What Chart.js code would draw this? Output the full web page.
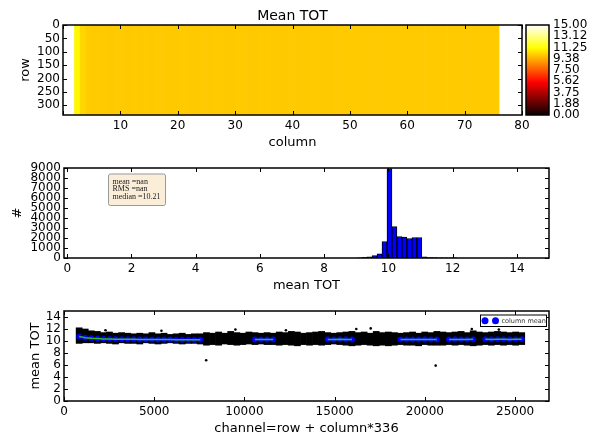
<!DOCTYPE html>
<html>
<head>
<meta charset="utf-8">
<script src="https://cdn.jsdelivr.net/npm/chart.js@4.4.1/dist/chart.umd.min.js"></script>
<style>
  html, body { margin: 0; padding: 0; background: #fff; }
  #wrap { position: relative; width: 598px; height: 441px; overflow: hidden; }
  #wrap canvas { position: absolute; left: 0; top: 0; }
</style>
</head>
<body>
<div id="wrap">
  <canvas id="map" width="598" height="441"></canvas>
  <canvas id="cbar" width="598" height="441"></canvas>
  <canvas id="hist" width="598" height="441"></canvas>
  <canvas id="chan" width="598" height="441"></canvas>
</div>
<script>
// ---------- data ----------
const nRows = 336;
const columns = [2, 3, 4, 5, 6, 7, 8, 9, 10, 11, 12, 13, 14, 15, 16, 17, 18, 19, 20, 21,
  22, 23, 24, 25, 26, 27, 28, 29, 30, 31, 32, 33, 34, 35, 36, 37, 38, 39, 40, 41,
  42, 43, 44, 45, 46, 47, 48, 49, 50, 51, 52, 53, 54, 55, 56, 57, 58, 59, 60, 61,
  62, 63, 64, 65, 66, 67, 68, 69, 70, 71, 72, 73, 74, 75];

// typical TOT per column shown in the map
const mapTot = [11.0, 10.3, 10.05, 10.0, 10.02, 10.0, 9.98, 10.0, 10.01, 9.99,
  10.0, 9.99, 10.01, 9.98, 10.0, 10.01, 9.99, 9.98, 10.0, 10.01,
  9.99, 9.98, 10.0, 9.99, 10.01, 10.0, 9.98, 9.99, 10.01, 10.0,
  9.98, 9.99, 10.01, 10.0, 9.98, 9.99, 9.98, 10.01, 10.0, 9.98,
  9.99, 10.01, 10.0, 9.98, 9.99, 10.02, 10.01, 10.0, 10.01, 10.02,
  10.01, 10.0, 10.01, 10.02, 10.01, 10.0, 10.01, 10.02, 10.01, 10.0,
  10.01, 10.02, 10.01, 10.0, 10.01, 10.02, 10.01, 10.0, 10.01, 10.02,
  10.01, 10.0, 10.01, 10.02];

const cbarTicks = [0, 1.875, 3.75, 5.625, 7.5, 9.375, 11.25, 13.125, 15];
const cbarLabels = ['0.00', '1.88', '3.75', '5.62', '7.50', '9.38', '11.25', '13.12', '15.00'];

// histogram of per-pixel mean TOT
const histCenters = [9.103, 9.258, 9.413, 9.568, 9.723, 9.878, 10.033, 10.188, 10.343, 10.498,
  10.653, 10.808, 10.963, 11.118, 11.273, 11.428, 11.583, 11.738, 11.893, 12.048];
const histCounts = [20, 60, 120, 250, 420, 1650, 8950, 3150, 2150, 2100,
  1950, 2050, 2050, 120, 50, 30, 20, 15, 25, 10];
const statsLines = ['mean =nan', 'RMS =nan', 'median =10.21'];

// channel axis tick positions
const channelTicks = [0, 5000, 10000, 15000, 20000, 25000];

// per-channel spread within each column (lowest / highest pixel value)
const bandLo = [9.6, 9.7, 9.7, 9.6, 9.7, 9.6, 9.5, 9.7, 9.6, 9.6,
  9.5, 9.7, 9.6, 9.5, 9.6, 9.7, 9.6, 9.5, 9.6, 9.6,
  9.5, 9.3, 9.4, 9.3, 9.5, 9.4, 9.3, 9.4, 9.5, 9.4,
  9.5, 9.4, 9.4, 9.3, 9.4, 9.3, 9.2, 9.4, 9.3, 9.4,
  9.3, 9.4, 9.5, 9.4, 9.3, 9.2, 9.3, 9.4, 9.3, 9.2,
  9.3, 9.2, 9.3, 9.4, 9.3, 9.3, 9.2, 9.4, 9.3, 9.3,
  9.3, 9.4, 9.3, 9.4, 9.3, 9.2, 9.3, 9.4, 9.3, 9.4,
  9.3, 9.4, 9.3, 9.4];
const bandHi = [12.2, 12.0, 11.7, 11.6, 11.4, 11.5, 11.3, 11.4, 11.3, 11.2,
  11.3, 11.2, 11.4, 11.2, 11.3, 11.1, 11.2, 11.3, 11.1, 11.2,
  11.2, 11.4, 11.3, 11.5, 11.3, 11.6, 11.4, 11.3, 11.5, 11.4,
  11.3, 11.4, 11.3, 11.5, 11.4, 11.6, 11.5, 11.3, 11.4, 11.5,
  11.6, 11.4, 11.3, 11.4, 11.5, 11.6, 11.4, 11.5, 11.3, 11.6,
  11.4, 11.5, 11.4, 11.3, 11.4, 11.5, 11.3, 11.5, 11.4, 11.6,
  11.5, 11.4, 11.5, 11.6, 11.4, 11.7, 11.5, 11.4, 11.5, 11.6,
  11.5, 11.4, 11.5, 11.4];
// isolated channels outside the band
const strayChannels = [7880, 20600, 9500, 12300, 17000, 22600, 5400, 2300, 16200, 24100];
const strayTot = [6.8, 5.9, 11.9, 11.8, 12.1, 12.0, 11.7, 11.8, 12.0, 11.9];

// column means (gaps where no mean is drawn)
const colMean = [10.75, 10.55, 10.45, 10.4, 10.35, 10.33, 10.31, 10.3, 10.29, 10.28,
  10.27, 10.26, 10.25, 10.24, 10.24, 10.23, 10.22, 10.22, 10.21, 10.2,
  10.2, null, null, null, null, null, null, null, null, 10.25,
  10.24, 10.26, 10.25, null, null, null, null, null, null, null,
  null, 10.27, 10.26, 10.28, 10.27, 10.26, null, null, null, null,
  null, null, null, 10.25, 10.26, 10.24, 10.25, 10.27, 10.26, 10.25,
  null, 10.26, 10.27, 10.25, 10.26, 10.28, null, 10.28, 10.27, 10.29,
  10.28, 10.27, 10.28, 10.3];

// ---------- helpers ----------
Chart.defaults.font.family = "'DejaVu Sans', sans-serif";
Chart.defaults.font.size = 12;
Chart.defaults.color = '#000';

// matplotlib "hot" colour map, value range 0..15
function hot(v) {
  const t = Math.max(0, Math.min(1, v / 15));
  const c = x => Math.max(0, Math.min(1, x));
  const r = c(0.0416 + (1 - 0.0416) * t / 0.365079);
  const g = c((t - 0.365079) / (0.746032 - 0.365079));
  const b = c((t - 0.746032) / (1 - 0.746032));
  return `rgb(${Math.round(r * 255)},${Math.round(g * 255)},${Math.round(b * 255)})`;
}

const plainNum = v => String(v);

// axes frame with inward tick marks on all four sides
const framePlugin = {
  id: 'frame',
  afterDatasetsDraw(chart, args, opts) {
    const { ctx, chartArea: a } = chart;
    ctx.save();
    ctx.strokeStyle = '#000';
    if (opts.ticks) {
      ctx.lineWidth = 1;
      ['x', 'y'].forEach(id => {
        const s = chart.scales[id];
        if (!s || !s.options.display) return;
        s.ticks.forEach(t => {
          const p = Math.round(s.getPixelForValue(t.value)) + 0.5;
          ctx.beginPath();
          if (s.isHorizontal()) {
            ctx.moveTo(p, a.bottom); ctx.lineTo(p, a.bottom - 4);
            ctx.moveTo(p, a.top); ctx.lineTo(p, a.top + 4);
          } else {
            ctx.moveTo(a.left, p); ctx.lineTo(a.left + 4, p);
            ctx.moveTo(a.right, p); ctx.lineTo(a.right - 4, p);
          }
          ctx.stroke();
        });
      });
    }
    ctx.lineWidth = 1.5;
    ctx.strokeRect(a.left, a.top, a.right - a.left, a.bottom - a.top);
    ctx.restore();
  }
};

// title centred over the plot area
const headingPlugin = {
  id: 'heading',
  afterDraw(chart, args, opts) {
    if (!opts.text) return;
    const { ctx, chartArea: a } = chart;
    ctx.save();
    ctx.font = "14px 'DejaVu Sans'";
    ctx.fillStyle = '#000';
    ctx.textAlign = 'center';
    ctx.textBaseline = 'alphabetic';
    ctx.fillText(opts.text, (a.left + a.right) / 2, a.top - 5);
    ctx.restore();
  }
};

// statistics box inside the histogram
const statBoxPlugin = {
  id: 'statbox',
  afterDraw(chart, args, opts) {
    if (!opts.lines) return;
    const { ctx, chartArea: a } = chart;
    const x = a.left + 44.5, y = a.top + 6, w = 57, h = 31.5;
    ctx.save();
    ctx.beginPath();
    if (ctx.roundRect) ctx.roundRect(x, y, w, h, 2); else ctx.rect(x, y, w, h);
    ctx.fillStyle = 'rgba(245,222,179,0.5)';
    ctx.fill();
    ctx.strokeStyle = '#999';
    ctx.lineWidth = 1;
    ctx.stroke();
    ctx.fillStyle = '#222';
    ctx.font = "8px 'Liberation Serif'";
    ctx.textBaseline = 'alphabetic';
    opts.lines.forEach((s, i) => ctx.fillText(s, x + 4, y + 9.5 + i * 7.5));
    ctx.restore();
  }
};

// compact legend in the upper right corner
const miniLegendPlugin = {
  id: 'minilegend',
  afterDraw(chart, args, opts) {
    if (!opts.label) return;
    const { ctx, chartArea: a } = chart;
    const w = 66, h = 11.5;
    const x = a.right - 2.5 - w, y = a.top + 4;
    ctx.save();
    ctx.fillStyle = '#fff';
    ctx.fillRect(x, y, w, h);
    ctx.strokeStyle = '#000';
    ctx.lineWidth = 1;
    ctx.strokeRect(x, y, w, h);
    ctx.fillStyle = opts.color;
    [4.5, 15].forEach(dx => {
      ctx.beginPath();
      ctx.arc(x + dx, y + h / 2, 3.5, 0, Math.PI * 2);
      ctx.fill();
    });
    ctx.fillStyle = '#333';
    ctx.font = "6.5px 'DejaVu Sans'";
    ctx.textBaseline = 'middle';
    ctx.fillText(opts.label, x + 21, y + h / 2 + 0.5);
    ctx.restore();
  }
};

const plain = { display: false, drawTicks: false };
const noBorder = { display: false };
const base = { responsive: false, animation: false, devicePixelRatio: 1 };

// ---------- Mean TOT map ----------
new Chart(document.getElementById('map'), {
  type: 'bar',
  data: {
    datasets: [{
      data: columns.map(c => ({ x: c + 0.5, y: [0, nRows] })),
      backgroundColor: mapTot.map(hot),
      borderWidth: 0,
      barPercentage: 1,
      categoryPercentage: 1
    }]
  },
  options: {
    ...base,
    layout: { padding: { left: 0, right: 76, top: 25, bottom: 290 } },
    plugins: {
      legend: { display: false }, tooltip: { enabled: false },
      frame: { ticks: true }, heading: { text: 'Mean TOT' }
    },
    scales: {
      x: {
        type: 'linear', min: 0, max: 80, offset: false, grid: plain, border: noBorder,
        ticks: { stepSize: 10, includeBounds: false, padding: 3.5, maxRotation: 0, autoSkip: false,
          callback: v => (v === 0 ? '' : String(v)) },
        title: { display: true, text: 'column', font: { size: 13 }, padding: { top: 0, bottom: 1 } },
        afterFit: s => { s.height = 36; }
      },
      y: {
        type: 'linear', reverse: true, min: 0, max: nRows, grid: plain, border: noBorder,
        ticks: { stepSize: 50, includeBounds: false, padding: 3, autoSkip: false, callback: plainNum },
        title: { display: true, text: 'row', font: { size: 13 }, padding: { top: 18, bottom: 0 } },
        afterFit: s => { s.width = 63; }
      }
    }
  },
  plugins: [framePlugin, headingPlugin]
});

// ---------- colour bar ----------
new Chart(document.getElementById('cbar'), {
  type: 'bar',
  data: {
    labels: [''],
    datasets: [{
      data: [[0, 15]],
      borderWidth: 0,
      barPercentage: 1,
      categoryPercentage: 1,
      backgroundColor: c => {
        const ys = c.chart.scales.y;
        const y0 = ys ? ys.getPixelForValue(0) : NaN;
        const y1 = ys ? ys.getPixelForValue(15) : NaN;
        if (!Number.isFinite(y0) || !Number.isFinite(y1)) return '#000';
        const g = c.chart.ctx.createLinearGradient(0, y0, 0, y1);
        g.addColorStop(0, hot(0));
        g.addColorStop(0.365079, hot(15 * 0.365079));
        g.addColorStop(0.746032, hot(15 * 0.746032));
        g.addColorStop(1, hot(15));
        return g;
      }
    }]
  },
  options: {
    ...base,
    layout: { padding: { left: 526, right: 0, top: 25, bottom: 326 } },
    plugins: { legend: { display: false }, tooltip: { enabled: false }, frame: { ticks: false } },
    scales: {
      x: { display: false },
      y: {
        position: 'right', min: 0, max: 15, grid: plain, border: noBorder,
        afterBuildTicks: s => { s.ticks = cbarTicks.map(v => ({ value: v })); },
        ticks: { padding: 4, autoSkip: false, callback: (v, i) => cbarLabels[i] },
        afterFit: s => { s.width = 49; }
      }
    }
  },
  plugins: [framePlugin]
});

// ---------- histogram ----------
new Chart(document.getElementById('hist'), {
  type: 'bar',
  data: {
    datasets: [{
      data: histCenters.map((x, i) => ({ x, y: histCounts[i] })),
      backgroundColor: '#0000ff',
      borderColor: '#000',
      borderWidth: 1,
      borderSkipped: false,
      barPercentage: 1,
      categoryPercentage: 1
    }]
  },
  options: {
    ...base,
    layout: { padding: { left: 0, right: 49, top: 168, bottom: 147 } },
    plugins: {
      legend: { display: false }, tooltip: { enabled: false },
      frame: { ticks: true }, statbox: { lines: statsLines }
    },
    scales: {
      x: {
        type: 'linear', min: -0.1, max: 15, offset: false, grid: plain, border: noBorder,
        ticks: { stepSize: 2, includeBounds: false, padding: 3.5, maxRotation: 0, autoSkip: false, callback: plainNum },
        title: { display: true, text: 'mean TOT', font: { size: 13 }, padding: { top: 0, bottom: 0.7 } },
        afterFit: s => { s.height = 36; }
      },
      y: {
        type: 'linear', min: 0, max: 9000, grid: plain, border: noBorder,
        ticks: { stepSize: 1000, includeBounds: false, padding: 3, autoSkip: false, callback: plainNum },
        title: { display: true, text: '#', font: { size: 13 }, padding: { top: 10, bottom: 0 } },
        afterFit: s => { s.width = 64; }
      }
    }
  },
  plugins: [framePlugin, statBoxPlugin]
});

// ---------- per-channel mean TOT ----------
const chanOf = c => c * nRows + nRows / 2;
new Chart(document.getElementById('chan'), {
  type: 'bar',
  data: {
    datasets: [
      {
        type: 'line',
        data: columns.map((c, i) => ({ x: chanOf(c), y: colMean[i] })),
        borderColor: '#2db82d',
        borderWidth: 1.5,
        pointRadius: 0,
        spanGaps: false,
        tension: 0,
        order: 0
      },
      {
        type: 'scatter',
        label: 'column mean',
        data: columns.map((c, i) => ({ x: chanOf(c), y: colMean[i] })),
        backgroundColor: '#0000ff',
        borderColor: '#0000cc',
        borderWidth: 0.5,
        pointRadius: 2.8,
        order: 1
      },
      {
        type: 'scatter',
        data: strayChannels.map((x, i) => ({ x, y: strayTot[i] })),
        backgroundColor: '#000',
        borderWidth: 0,
        pointRadius: 1.3,
        order: 2
      },
      {
        type: 'bar',
        data: columns.map((c, i) => ({ x: chanOf(c), y: [bandLo[i], bandHi[i]] })),
        backgroundColor: '#000',
        borderWidth: 0,
        barPercentage: 1,
        categoryPercentage: 1,
        order: 3
      }
    ]
  },
  options: {
    ...base,
    layout: { padding: { left: 0, right: 49, top: 311, bottom: 4 } },
    plugins: {
      legend: { display: false }, tooltip: { enabled: false },
      frame: { ticks: true }, minilegend: { label: 'column mean', color: '#0000ff' }
    },
    scales: {
      x: {
        type: 'linear', min: 0, max: 80 * nRows, offset: false, grid: plain, border: noBorder,
        afterBuildTicks: s => { s.ticks = channelTicks.map(v => ({ value: v })); },
        ticks: { padding: 3.5, maxRotation: 0, autoSkip: false, callback: plainNum },
        title: { display: true, text: 'channel=row + column*336', font: { size: 13 }, padding: { top: 0, bottom: 0.7 } },
        afterFit: s => { s.height = 36; }
      },
      y: {
        type: 'linear', min: 0, max: 15, grid: plain, border: noBorder,
        ticks: { stepSize: 2, includeBounds: false, padding: 3, autoSkip: false, callback: plainNum },
        title: { display: true, text: 'mean TOT', font: { size: 13 }, padding: { top: 27.5, bottom: 0 } },
        afterFit: s => { s.width = 64; }
      }
    }
  },
  plugins: [framePlugin, miniLegendPlugin]
});
</script>
</body>
</html>
